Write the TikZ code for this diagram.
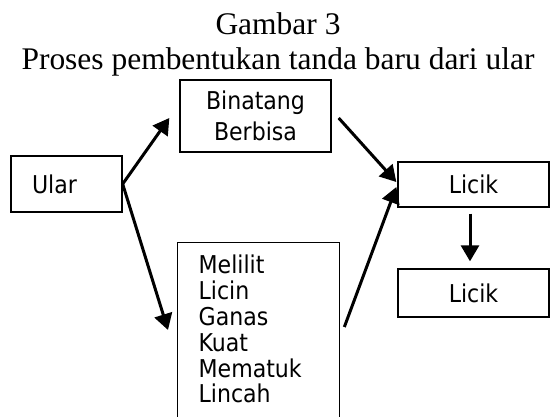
\documentclass[tikz,border=0pt]{standalone}
\usepackage{fontspec}
\setmainfont{Liberation Serif}
\newfontfamily\boxfont{DejaVu Sans Condensed}
\usetikzlibrary{arrows.meta,calc}

\tikzset{
  box/.style={draw, line width=1pt, rectangle, inner sep=0pt,
    font=\boxfont\fontsize{18.4}{23.5}\selectfont},
  title/.style={font=\fontsize{23.6}{28}\selectfont, anchor=base, inner sep=0pt},
  arr/.style={line width=2.25pt, -{Triangle[length=12pt,width=13.5pt]}}
}

\begin{document}
\begin{tikzpicture}[x=0.75pt, y=-0.75pt]
  \useasboundingbox (0,0) rectangle (550,417);
  \clip (0,0) rectangle (550,417);

  % caption
  \node[title] (cap1) at (278,35) {Gambar 3};
  \node[title] (cap2) at (278,70) {Proses pembentukan tanda baru dari ular};

  % boxes
  \node[box, align=left, text width=51.75pt, inner xsep=15.75pt,
        minimum height=42pt] (ular) at (66.5,184) {Ular};
  \node[box, align=center, minimum width=113.25pt, minimum height=54pt]
        (bin) at (255.5,116) {Binatang\\Berbisa};
  \node[box, minimum width=113.25pt, minimum height=33.75pt]
        (lic1) at (473.5,184.5) {Licik};
  \node[box, minimum width=113.25pt, minimum height=36pt]
        (lic2) at (473.5,293) {Licik};
  % list box runs past the lower edge of the picture
  \node[box, anchor=north west, align=left, text width=90pt,
        inner xsep=15.75pt, inner ysep=9.2pt, text depth=112pt,
        font=\boxfont\fontsize{18.4}{19.4}\selectfont]
        (sifat) at (177,242) {Melilit\\Licin\\Ganas\\Kuat\\Mematuk\\Lincah};

  % connectors
  \draw[arr] (ular.east) -- ($(bin.west)+(-10,2)$);
  \draw[arr] (ular.east) -- ($(sifat.north west)+(-9,88)$);
  \draw[arr] ($(bin.east)+(7,2)$) -- ($(lic1.west)+(-1,-2.5)$);
  \draw[arr] ($(sifat.north east)+(4,85)$) -- ($(lic1.west)+(-1,2.5)$);
  \draw[arr] ($(lic1.south)+(-3.5,6)$) -- ($(lic2.north)+(-3.5,-7)$);
\end{tikzpicture}
\end{document}
